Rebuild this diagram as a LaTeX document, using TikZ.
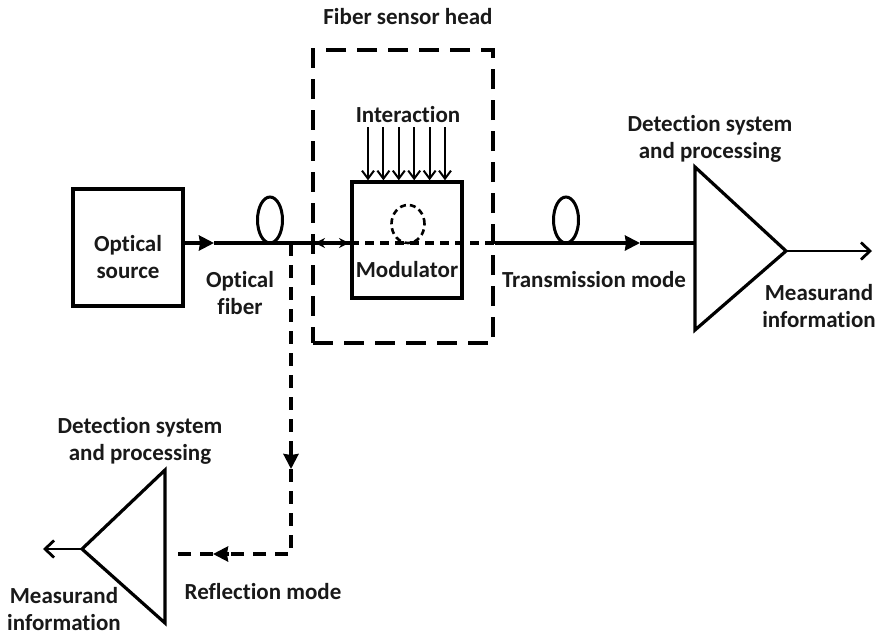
\documentclass[tikz,border=0pt]{standalone}
\usepackage{fontspec}
\setmainfont{Carlito}[Ligatures=NoCommon]
\usetikzlibrary{arrows.meta,shapes.geometric}
\begin{document}
\begin{tikzpicture}[x=1pt,y=-1pt,
  lbl/.style={font=\bfseries\fontsize{23}{27}\selectfont, align=center, inner sep=0pt, text=black!90},
  boxstyle/.style={draw, line width=3.4pt, inner sep=0pt},
  fiber/.style={line width=3.3pt},
  dashfiber/.style={line width=3.3pt, dash pattern=on 9pt off 6pt},
  refl/.style={line width=3.3pt, dash pattern=on 13pt off 9pt},
  headbox/.style={draw, line width=3.2pt, dash pattern=on 20pt off 11pt, inner sep=0pt},
  loopstyle/.style={draw, ellipse, line width=3pt, inner sep=0pt},
  tipend/.style={-{Stealth[length=15pt,width=15pt,inset=1pt]}},
  outarrow/.style={line width=2.8pt, -{Straight Barb[length=9pt,width=17pt,line width=2.8pt]}},
  interarrow/.style={line width=2pt, -{Straight Barb[length=8pt,width=12pt,line width=2pt]}},
  tri/.style={line width=3.2pt, line join=miter}
]
\useasboundingbox (0,0) rectangle (885,635);

% main line level
\coordinate (ml) at (0,243);

% optical source
\node[boxstyle, minimum width=110pt, minimum height=117pt] (src) at (128,247.5) {};
\node[lbl] (srctxt) at (128,257) {Optical\\source};

% sensor head
\node[headbox, minimum width=180pt, minimum height=293pt] (head) at (403,196.5) {};
\node[lbl] (headtxt) at (408,17) {Fiber sensor head};

% modulator
\node[boxstyle, minimum width=110pt, minimum height=116pt] (mod) at (407,240) {};
\node[lbl] (modtxt) at (407,270) {Modulator};
\node[draw, ellipse, line width=2.6pt, dash pattern=on 6pt off 4pt, minimum width=33pt, minimum height=38pt, inner sep=0pt] (dcirc) at (408,224) {};

% interaction
\node[lbl] (inttxt) at (408,115) {Interaction};
\foreach \i in {0,...,5}{
  \coordinate (ia\i) at (368+\i*15.4,127);
  \draw[interarrow] (ia\i) -- (ia\i |- mod.north);
}

% fiber loops
\node[loopstyle, minimum width=25pt, minimum height=46pt] (loop1) at (270,220) {};
\node[loopstyle, minimum width=25pt, minimum height=46pt] (loop2) at (566,220) {};

% right detection triangle
\coordinate (rt1) at (695,167);
\coordinate (rt2) at (695,330);
\coordinate (rtip) at (786,251);
\draw[tri] (rt1) -- (rt2) -- (rtip) -- cycle;
\coordinate (rout) at (872,251);

% left detection triangle
\coordinate (lt1) at (165,470);
\coordinate (lt2) at (165,623);
\coordinate (ltip) at (82,549);
\draw[tri] (lt1) -- (lt2) -- (ltip) -- cycle;
\coordinate (lout) at (43,549);

% main fiber
\coordinate (a1) at (214,243);
\draw[fiber, tipend] (src.east |- ml) -- (a1);
\draw[fiber] (a1) -- (mod.west |- ml);
\coordinate (da1) at (315,243);
\coordinate (da2) at (349,243);
\draw[line width=2.4pt, {Stealth[length=10pt,width=10pt]}-{Stealth[length=10pt,width=10pt]}] (da1) -- (da2);
\draw[dashfiber] (mod.west |- ml) -- (head.east |- ml);
\coordinate (a2) at (640,243);
\draw[fiber, tipend] (head.east |- ml) -- (a2);
\draw[fiber] (a2) -- (rt1 |- ml);

% outputs
\draw[outarrow] (rtip) -- (rout);
\draw[outarrow] (ltip) -- (lout);

% reflection branch
\coordinate (rb) at (291,243);
\coordinate (a3) at (291,469);
\coordinate (rc) at (291,554);
\coordinate (a4) at (213,554);
\coordinate (re) at (171,554);
\draw[refl] (rb) -- (a3 |- 0,452);
\draw[line width=3.3pt, tipend] (a3 |- 0,452) -- (a3);
\draw[refl] (a3) -- (rc) -- (a4 -| 229,0);
\draw[line width=3.3pt, tipend] (229,554) -- (a4);
\draw[refl] (a4) -- (re);

% labels
\node[lbl] (fibtxt) at (240,293) {Optical\\fiber};
\node[lbl] (trtxt) at (594,280) {Transmission mode};
\node[lbl] (rdet) at (710,139) {Detection system\\and processing};
\node[lbl] (rmeas) at (819,306) {Measurand\\information};
\node[lbl] (ldet) at (140,441) {Detection system\\and processing};
\node[lbl] (rftxt) at (263,592) {Reflection mode};
\node[lbl] (lmeas) at (64,609) {Measurand\\information};
\end{tikzpicture}
\end{document}
